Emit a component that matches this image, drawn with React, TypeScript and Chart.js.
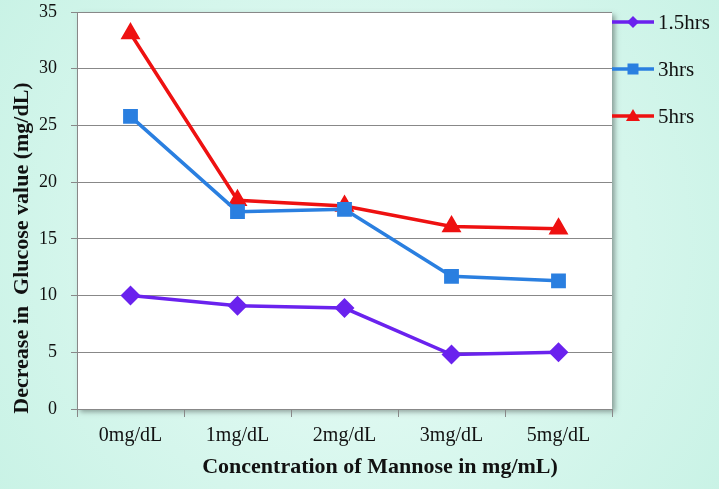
import React, { useEffect, useRef } from "react";
import { Chart, registerables } from "chart.js";

Chart.register(...registerables);

const categories = ["0mg/dL", "1mg/dL", "2mg/dL", "3mg/dL", "5mg/dL"];
const series15 = [10.0, 9.1, 8.9, 4.8, 5.0];
const series3 = [25.8, 17.4, 17.6, 11.7, 11.3];
const series5 = [33.1, 18.4, 17.9, 16.1, 15.9];
const seriesNames = ["1.5hrs", "3hrs", "5hrs"];
const seriesColors = ["#6a22ee", "#2a7fe0", "#ee1111"];
const seriesMarkers = ["rectRot", "rect", "triangle"];
const xTitle = "Concentration of Mannose in mg/mL)";
const yTitle = "Decrease in  Glucose value (mg/dL)";

const FONT = "'Liberation Serif', 'Times New Roman', serif";

export default function App() {
  const ref = useRef<HTMLCanvasElement | null>(null);

  useEffect(() => {
    const canvas = ref.current;
    if (!canvas) return;

    const bgPlugin = {
      id: "bg",
      beforeDraw(chart: any) {
        const { ctx, width, height, chartArea } = chart;
        ctx.save();
        const g = ctx.createRadialGradient(width / 2, height / 2, 50, width / 2, height / 2, width * 0.7);
        g.addColorStop(0, "#e6fbf5");
        g.addColorStop(1, "#c4f1e3");
        ctx.fillStyle = g;
        ctx.fillRect(0, 0, width, height);
        ctx.shadowColor = "rgba(0,0,0,0.35)";
        ctx.shadowBlur = 5;
        ctx.shadowOffsetX = 3;
        ctx.shadowOffsetY = 3;
        ctx.fillStyle = "#ffffff";
        ctx.fillRect(chartArea.left, chartArea.top, chartArea.right - chartArea.left, chartArea.bottom - chartArea.top);
        ctx.restore();
      },
    };

    const titlesPlugin = {
      id: "titles",
      afterDraw(chart: any) {
        const { ctx } = chart;
        ctx.save();
        ctx.fillStyle = "#111";
        ctx.font = `bold 22px ${FONT}`;
        ctx.textAlign = "center";
        ctx.textBaseline = "middle";
        ctx.fillText(xTitle, 380, 467);
        ctx.translate(22, 248);
        ctx.rotate(-Math.PI / 2);
        ctx.fillText(yTitle, 0, 0);
        ctx.restore();
      },
    };

    const legendPlugin = {
      id: "customLegend",
      afterDraw(chart: any) {
        const { ctx, chartArea } = chart;
        const ys = [22, 69, 116];
        ctx.save();
        chart.data.datasets.forEach((ds: any, i: number) => {
          const y = ys[i];
          const x0 = chartArea.right;
          ctx.strokeStyle = ds.borderColor;
          ctx.lineWidth = 3.5;
          ctx.beginPath();
          ctx.moveTo(x0, y);
          ctx.lineTo(x0 + 42, y);
          ctx.stroke();
          ctx.fillStyle = ds.backgroundColor;
          const cx = x0 + 21;
          const style = ds.pointStyle;
          ctx.beginPath();
          if (style === "rectRot") {
            ctx.moveTo(cx, y - 6);
            ctx.lineTo(cx + 6, y);
            ctx.lineTo(cx, y + 6);
            ctx.lineTo(cx - 6, y);
          } else if (style === "rect") {
            ctx.rect(cx - 5.5, y - 5.5, 11, 11);
          } else {
            ctx.moveTo(cx, y - 7);
            ctx.lineTo(cx + 7, y + 5);
            ctx.lineTo(cx - 7, y + 5);
          }
          ctx.closePath();
          ctx.fill();
          ctx.fillStyle = "#111";
          ctx.font = `21px ${FONT}`;
          ctx.textBaseline = "middle";
          ctx.textAlign = "left";
          ctx.fillText(ds.label, x0 + 46, y + 1);
        });
        ctx.restore();
      },
    };

    const data = [series15, series3, series5];
    const chart = new Chart(canvas, {
      type: "line",
      data: {
        labels: categories,
        datasets: data.map((d, i) => ({
          label: seriesNames[i],
          data: d,
          borderColor: seriesColors[i],
          backgroundColor: seriesColors[i],
          pointBackgroundColor: seriesColors[i],
          pointBorderColor: seriesColors[i],
          pointStyle: seriesMarkers[i] as any,
          pointRadius: i === 0 ? 7.5 : 8,
          borderWidth: 3.5,
          tension: 0,
        })),
      },
      options: {
        animation: false,
        responsive: false,
        layout: { padding: { left: 0, right: 107, top: 0, bottom: 0 } },
        plugins: {
          legend: { display: false },
          tooltip: { enabled: false },
        },
        scales: {
          x: {
            offset: true,
            grid: {
              display: true,
              drawOnChartArea: false,
              drawTicks: true,
              tickLength: 8,
              offset: true,
              color: "#888",
            },
            border: { display: true, color: "#888", width: 1 },
            ticks: { color: "#111", font: { family: FONT, size: 20 }, padding: 7 },
            title: { display: false },
            afterFit(scale: any) {
              scale.height = 80;
              scale.paddingLeft = 0;
              scale.paddingRight = 0;
            },
          },
          y: {
            min: 0,
            max: 35,
            ticks: { stepSize: 5, color: "#111", font: { family: FONT, size: 18 }, padding: 14 },
            grid: { color: "#888", tickLength: 6, lineWidth: 1 },
            border: { display: true, color: "#888" },
            title: { display: false },
            afterFit(scale: any) {
              scale.width = 77;
              scale.paddingTop = 12;
              scale.paddingBottom = 0;
            },
          },
        },
      },
      plugins: [bgPlugin, legendPlugin, titlesPlugin],
    });

    return () => chart.destroy();
  }, []);

  return (
    <div style={{ position: "fixed", left: 0, top: 0, width: 719, height: 489 }}>
      <canvas ref={ref} width={719} height={489} style={{ width: 719, height: 489, display: "block" }} />
    </div>
  );
}
